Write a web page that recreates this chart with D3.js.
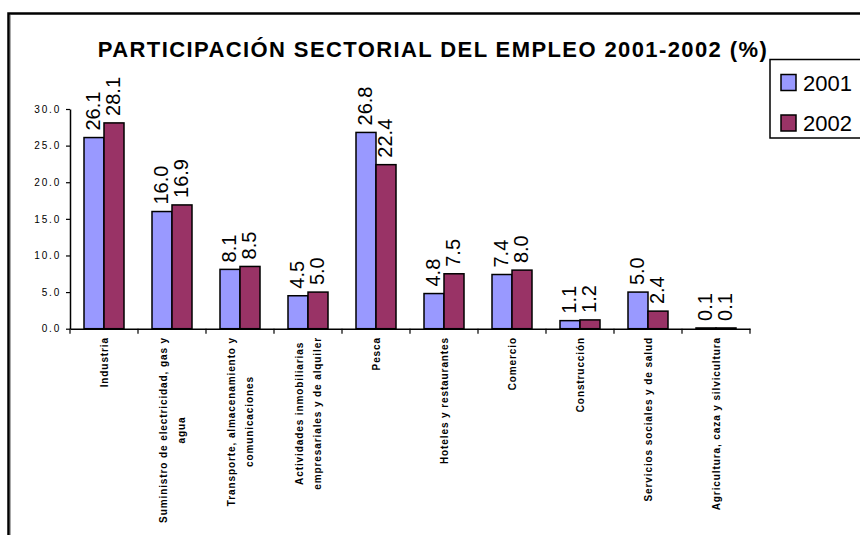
<!DOCTYPE html>
<html>
<head>
<meta charset="utf-8">
<script src="https://cdn.jsdelivr.net/npm/d3@7"></script>
<style>
  html, body { margin: 0; padding: 0; background: #fff; }
  svg { display: block; font-family: Arial, "Liberation Sans", sans-serif; }
</style>
</head>
<body>
<div class="container"></div>
<script>
const categories = [
  'Industria',
  'Suministro de electricidad, gas y\nagua',
  'Transporte, almacenamiento y\ncomunicaciones',
  'Actividades inmobiliarias\nempresariales y de alquiler',
  'Pesca',
  'Hoteles y restaurantes',
  'Comercio',
  'Construcción',
  'Servicios sociales y de salud',
  'Agricultura, caza y silvicultura'
];
const years = ['2001', '2002'];
const values2001 = [26.1, 16.0, 8.1, 4.5, 26.8, 4.8, 7.4, 1.1, 5.0, 0.1];
const values2002 = [28.1, 16.9, 8.5, 5.0, 22.4, 7.5, 8.0, 1.2, 2.4, 0.1];
const yTicks = [0, 5, 10, 15, 20, 25, 30];
const colors = ['#9999ff', '#993366'];
const title = 'PARTICIPACIÓN SECTORIAL DEL EMPLEO 2001-2002 (%)';

const width = 860;
const height = 535;
const plot = { left: 70, right: 750, top: 109, bottom: 328.7 };

const svg = d3.select('.container')
  .append('svg')
  .attr('width', width)
  .attr('height', height);

// chart frame (right and bottom edges fall outside the picture)
svg.append('rect')
  .attr('x', 8.5).attr('y', 13.5)
  .attr('width', 900).attr('height', 600)
  .attr('fill', 'none')
  .attr('stroke', '#000')
  .attr('stroke-width', 2.5);
svg.append('line')
  .attr('x1', 10.5).attr('x2', 10.5)
  .attr('y1', 15).attr('y2', 535)
  .attr('stroke', '#aaa').attr('stroke-width', 1);

svg.append('text')
  .attr('x', 433)
  .attr('y', 57)
  .attr('text-anchor', 'middle')
  .attr('font-weight', 'bold')
  .attr('font-size', 22)
  .attr('letter-spacing', 1.4)
  .text(title);

const x = d3.scaleBand().domain(d3.range(categories.length)).range([plot.left, plot.right]);
const xInner = d3.scaleBand().domain(years).range([14, x.bandwidth() - 14]);
const y = d3.scaleLinear().domain([0, 30]).range([plot.bottom, plot.top]);

// y axis
const yAxis = svg.append('g')
  .attr('transform', `translate(${plot.left},0)`)
  .call(d3.axisLeft(y).tickValues(yTicks).tickFormat(d3.format('.1f')).tickSize(4).tickSizeOuter(0));
yAxis.select('.domain').attr('stroke', '#000').attr('stroke-width', 1.5);
yAxis.selectAll('.tick line').attr('stroke', '#000').attr('stroke-width', 1.2);
yAxis.selectAll('.tick text')
  .attr('x', -9)
  .attr('font-size', 10)
  .attr('letter-spacing', 1.8)
  .attr('font-family', 'Arial, "Liberation Sans", sans-serif')
  .attr('fill', '#000');

// bars
const series = [values2001, values2002];
const groups = svg.append('g').selectAll('g')
  .data(categories.map((c, i) => i))
  .enter()
  .append('g')
  .attr('transform', i => `translate(${x(i)},0)`);

groups.selectAll('rect')
  .data(i => years.map((yr, k) => ({ yr, k, v: series[k][i] })))
  .enter()
  .append('rect')
  .attr('x', d => xInner(d.yr))
  .attr('y', d => y(d.v))
  .attr('width', xInner.bandwidth())
  .attr('height', d => y(0) - y(d.v))
  .attr('fill', d => colors[d.k])
  .attr('stroke', '#000')
  .attr('stroke-width', 1.5);

groups.selectAll('text.value')
  .data(i => years.map((yr, k) => ({ yr, k, v: series[k][i] })))
  .enter()
  .append('text')
  .attr('class', 'value')
  .attr('transform', d => `translate(${xInner(d.yr) + xInner.bandwidth() / 2 - 1.5},${y(d.v) - 7}) rotate(-90)`)
  .attr('dy', '0.35em')
  .attr('font-size', 20)
  .text(d => d.v.toFixed(1));

// x axis
const xAxis = svg.append('g')
  .attr('transform', `translate(0,${plot.bottom})`)
  .call(d3.axisBottom(x).tickValues([]).tickSizeOuter(0));
xAxis.select('.domain').attr('stroke', '#000').attr('stroke-width', 1.5);
xAxis.selectAll('line.tk')
  .data(d3.range(categories.length + 1))
  .enter()
  .append('line')
  .attr('class', 'tk')
  .attr('x1', i => plot.left + i * x.step())
  .attr('x2', i => plot.left + i * x.step())
  .attr('y1', 0).attr('y2', 5)
  .attr('stroke', '#000').attr('stroke-width', 1.2);

// category labels, rotated, top aligned under the axis
const labelTop = 337;
const lineGap = 18;
categories.forEach((cat, i) => {
  const lines = cat.split('\n');
  const cx = x(i) + x.bandwidth() / 2;
  const g = svg.append('g');
  const texts = lines.map((ln, j) => g.append('text')
    .attr('font-size', 10)
    .attr('font-weight', 'bold')
    .attr('letter-spacing', 0.9)
    .attr('text-anchor', 'middle')
    .attr('dy', '0.35em')
    .text(ln));
  const maxLen = d3.max(texts, t => t.node().getComputedTextLength());
  texts.forEach((t, j) => {
    const off = (j - (lines.length - 1) / 2) * lineGap;
    t.attr('transform', `translate(${cx + off},${labelTop + maxLen / 2}) rotate(-90)`);
  });
});

// legend
const legend = svg.append('g').attr('transform', 'translate(770,59.5)');
legend.append('rect')
  .attr('width', 120).attr('height', 78.5)
  .attr('fill', '#fff')
  .attr('stroke', '#000')
  .attr('stroke-width', 1.5);
years.forEach((yr, k) => {
  legend.append('rect')
    .attr('x', 11).attr('y', 15 + k * 40.5)
    .attr('width', 15).attr('height', 16)
    .attr('fill', colors[k])
    .attr('stroke', '#000')
    .attr('stroke-width', 1.5);
  legend.append('text')
    .attr('x', 33).attr('y', 31 + k * 40.5)
    .attr('font-size', 22)
    .text(yr);
});
</script>
</body>
</html>
